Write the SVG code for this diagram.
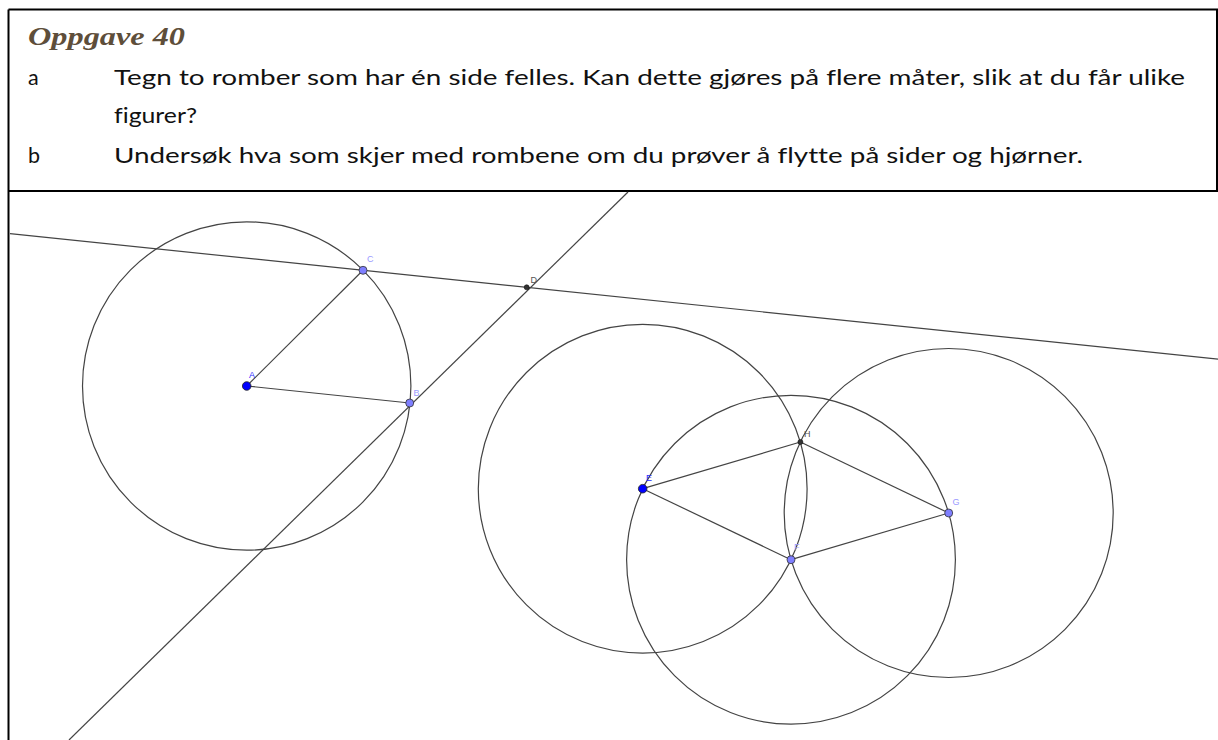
<svg xmlns="http://www.w3.org/2000/svg" width="1218" height="740" viewBox="0 0 1218 740">
<style>
.frame{fill:none;stroke:#000;stroke-width:2}
.geo{fill:none;stroke:#444;stroke-width:1.2}
.body{font-family:Lato,"Noto Sans","Liberation Sans",sans-serif;font-size:21.5px;fill:#111;font-variant-ligatures:none}
.title{font-family:"Liberation Serif",serif;font-weight:bold;font-style:italic;font-size:26px;fill:#5e4e3a}
.lbl{font-family:"Liberation Sans",Arial,sans-serif;font-size:9px}
.free{fill:#0000ff;stroke:#222;stroke-width:0.8}
.dep{fill:#7f7fff;stroke:#333;stroke-width:0.8}
.inter{fill:#333;stroke:#111;stroke-width:0.6}
</style>
<rect x="0" y="0" width="1218" height="740" fill="#fff"/>
<g id="frame">
<line class="frame" x1="8.5" y1="9.5" x2="1218" y2="9.5"/>
<line class="frame" x1="8.5" y1="9.5" x2="8.5" y2="740"/>
<line class="frame" x1="8.5" y1="191" x2="1218" y2="191"/>
<line class="frame" x1="1217" y1="9.5" x2="1217" y2="191"/>
</g>
<g id="header">
<text class="title" x="28" y="45" textLength="157" lengthAdjust="spacingAndGlyphs">Oppgave 40</text>
<text class="body" x="28" y="85">a</text>
<text class="body" x="114" y="85" textLength="1071" lengthAdjust="spacingAndGlyphs">Tegn to romber som har én side felles. Kan dette gjøres på flere måter, slik at du får ulike</text>
<text class="body" x="114" y="123" textLength="83" lengthAdjust="spacingAndGlyphs">figurer?</text>
<text class="body" x="28" y="163">b</text>
<text class="body" x="114" y="163" textLength="969" lengthAdjust="spacingAndGlyphs">Undersøk hva som skjer med rombene om du prøver å flytte på sider og hjørner.</text>
</g>
<g id="connectors">
<circle class="geo" cx="246.7" cy="386" r="164.2"/>
<line class="geo" x1="10" y1="233.6" x2="1218" y2="359.2"/>
<line class="geo" x1="628" y1="192" x2="69" y2="740"/>
<line class="geo" x1="246.7" y1="386" x2="363" y2="270.3"/>
<line class="geo" x1="246.7" y1="386" x2="409.7" y2="403"/>
<circle class="geo" cx="642.7" cy="488.7" r="164.4"/>
<circle class="geo" cx="791" cy="559.7" r="164.4"/>
<circle class="geo" cx="948.7" cy="513" r="164.5"/>
<line class="geo" x1="642.7" y1="488.7" x2="800.4" y2="442"/>
<line class="geo" x1="800.4" y1="442" x2="948.7" y2="513"/>
<line class="geo" x1="948.7" y1="513" x2="791" y2="559.7"/>
<line class="geo" x1="791" y1="559.7" x2="642.7" y2="488.7"/>
</g>
<g id="A"><circle class="free" cx="246.7" cy="386" r="4.3"/><text class="lbl" x="249" y="378" fill="#2a2aff">A</text></g>
<g id="B"><circle class="dep" cx="409.7" cy="403" r="4"/><text class="lbl" x="413.5" y="396" fill="#9a9aff">B</text></g>
<g id="C"><circle class="dep" cx="363" cy="270.3" r="4"/><text class="lbl" x="367" y="262" fill="#9a9aff">C</text></g>
<g id="D"><circle class="inter" cx="526.7" cy="287.3" r="2.5"/><text class="lbl" x="530.5" y="283" fill="#555">D</text></g>
<g id="E"><circle class="free" cx="642.7" cy="488.7" r="4.3"/><text class="lbl" x="646" y="481" fill="#2a2aff">E</text></g>
<g id="F"><circle class="dep" cx="791" cy="559.7" r="4"/><text class="lbl" x="794" y="550" fill="#9a9aff">F</text></g>
<g id="G"><circle class="dep" cx="948.7" cy="513" r="4"/><text class="lbl" x="952.5" y="505" fill="#9a9aff">G</text></g>
<g id="H"><circle class="inter" cx="800.4" cy="442" r="2.5"/><text class="lbl" x="804" y="437" fill="#555">H</text></g>
</svg>
